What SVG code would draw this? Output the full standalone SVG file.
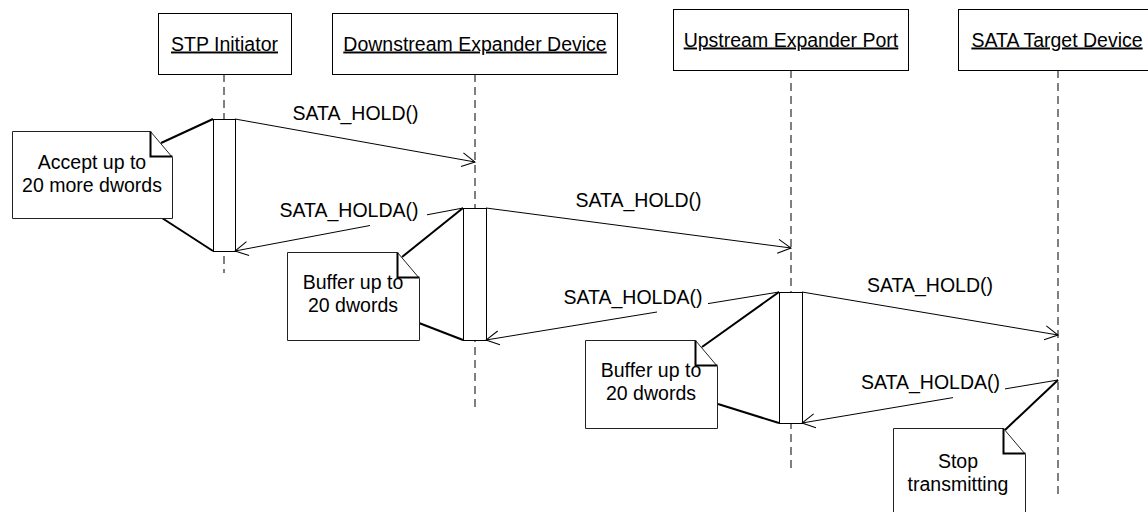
<svg xmlns="http://www.w3.org/2000/svg" width="1148" height="512" viewBox="0 0 1148 512">
  <style>
    text { font-family: "Liberation Sans", Arial, sans-serif; font-size: 19.5px; fill: #000; }
    .mid { text-anchor: middle; }
    .head { fill: #fff; stroke: #000; stroke-width: 1; }
    .head-label { text-decoration: underline; }
    .life { stroke: #000; stroke-width: 1; stroke-dasharray: 8 5; fill: none; }
    .act { fill: #fff; stroke: #000; stroke-width: 1; }
    .msg { stroke: #000; stroke-width: 1; fill: none; }
    .note { fill: #fff; stroke: #222; stroke-width: 1; }
    .fold { fill: none; stroke: #000; stroke-width: 2; }
    .anchor { stroke: #000; stroke-width: 2; fill: none; }
  </style>
  <defs>
    <marker id="open" markerUnits="userSpaceOnUse" markerWidth="20" markerHeight="20" refX="0" refY="0" viewBox="-15 -10 20 20" orient="auto" overflow="visible">
      <path d="M-13,-7 L0,0 L-13,7" fill="none" stroke="#000" stroke-width="1"/>
    </marker>
  </defs>

  <rect width="1148" height="512" fill="#fff"/>

  <!-- lifelines -->
  <g id="lifelines">
    <line class="life" x1="224" y1="74" x2="224" y2="273"/>
    <line class="life" x1="475" y1="74" x2="475" y2="407"/>
    <line class="life" x1="791" y1="70" x2="791" y2="472"/>
    <line class="life" x1="1058" y1="70" x2="1058" y2="495"/>
  </g>

  <!-- participants -->
  <g id="stp-initiator">
    <rect class="head" x="158.5" y="13.5" width="133" height="61"/>
    <text class="mid head-label" x="224.5" y="50.5">STP Initiator</text>
  </g>
  <g id="downstream-expander">
    <rect class="head" x="332.5" y="13.5" width="285" height="61"/>
    <text class="mid head-label" x="475" y="50.5">Downstream Expander Device</text>
  </g>
  <g id="upstream-port">
    <rect class="head" x="673.5" y="9.5" width="235" height="61"/>
    <text class="mid head-label" x="791" y="46.5">Upstream Expander Port</text>
  </g>
  <g id="sata-target">
    <rect class="head" x="958.5" y="9.5" width="200" height="61"/>
    <text class="mid head-label" x="1057" y="46.5">SATA Target Device</text>
  </g>

  <!-- activations -->
  <g id="activations">
    <rect class="act" x="213.5" y="119.5" width="22" height="132"/>
    <rect class="act" x="463.5" y="208.5" width="23" height="132"/>
    <rect class="act" x="779.5" y="292.5" width="23" height="131"/>
  </g>

  <!-- messages -->
  <g id="connectors">
    <line class="msg" x1="235" y1="119" x2="475" y2="162" marker-end="url(#open)"/>
    <polyline class="msg" points="463,208 427,214.8"/>
    <line class="msg" x1="370" y1="225.5" x2="235" y2="251" marker-end="url(#open)"/>
    <line class="msg" x1="486" y1="208" x2="791" y2="248" marker-end="url(#open)"/>
    <polyline class="msg" points="779,292 708,303.6"/>
    <line class="msg" x1="657" y1="312" x2="486" y2="340" marker-end="url(#open)"/>
    <line class="msg" x1="802" y1="292" x2="1058" y2="335" marker-end="url(#open)"/>
    <polyline class="msg" points="1058,380 1005,388.9"/>
    <line class="msg" x1="953" y1="397.6" x2="802" y2="423" marker-end="url(#open)"/>

    <!-- note anchors -->
    <line class="anchor" x1="161" y1="143" x2="213" y2="119"/>
    <line class="anchor" x1="162" y1="218" x2="213" y2="251"/>
    <line class="anchor" x1="402" y1="257" x2="463" y2="208"/>
    <line class="anchor" x1="419" y1="323" x2="463" y2="340"/>
    <line class="anchor" x1="702" y1="347" x2="779" y2="292"/>
    <line class="anchor" x1="718" y1="404" x2="779" y2="423"/>
    <line class="anchor" x1="1005" y1="430" x2="1058" y2="380"/>
  </g>

  <!-- message labels -->
  <g id="message-labels">
    <text class="mid" x="355.5" y="119.5">SATA_HOLD()</text>
    <text class="mid" x="349" y="217">SATA_HOLDA()</text>
    <text class="mid" x="638.5" y="207">SATA_HOLD()</text>
    <text class="mid" x="633" y="304">SATA_HOLDA()</text>
    <text class="mid" x="930" y="292">SATA_HOLD()</text>
    <text class="mid" x="930.5" y="389">SATA_HOLDA()</text>
  </g>

  <!-- notes -->
  <g id="note-accept">
    <path class="note" d="M12.5,131.5 H150.5 L172.5,157.5 V218.5 H12.5 Z"/>
    <path class="fold" d="M150.5,131.5 V156.5 H172.5"/>
    <text class="mid" x="92" y="169">Accept up to</text>
    <text class="mid" x="92" y="192">20 more dwords</text>
  </g>
  <g id="note-buffer-downstream">
    <path class="note" d="M287.5,252.5 H397.5 L419.5,278.5 V340.5 H287.5 Z"/>
    <path class="fold" d="M397.5,252.5 V277.5 H419.5"/>
    <text class="mid" x="353" y="289">Buffer up to</text>
    <text class="mid" x="353" y="312">20 dwords</text>
  </g>
  <g id="note-buffer-upstream">
    <path class="note" d="M585.5,340.5 H695.5 L717.5,366.5 V428.5 H585.5 Z"/>
    <path class="fold" d="M695.5,340.5 V365.5 H717.5"/>
    <text class="mid" x="651" y="377">Buffer up to</text>
    <text class="mid" x="651" y="400">20 dwords</text>
  </g>
  <g id="note-stop">
    <path class="note" d="M893.5,428.5 H1003.5 L1025.5,454.5 V530 H893.5 Z"/>
    <path class="fold" d="M1003.5,428.5 V453.5 H1025.5"/>
    <text class="mid" x="958" y="468">Stop</text>
    <text class="mid" x="958" y="491">transmitting</text>
  </g>
</svg>
